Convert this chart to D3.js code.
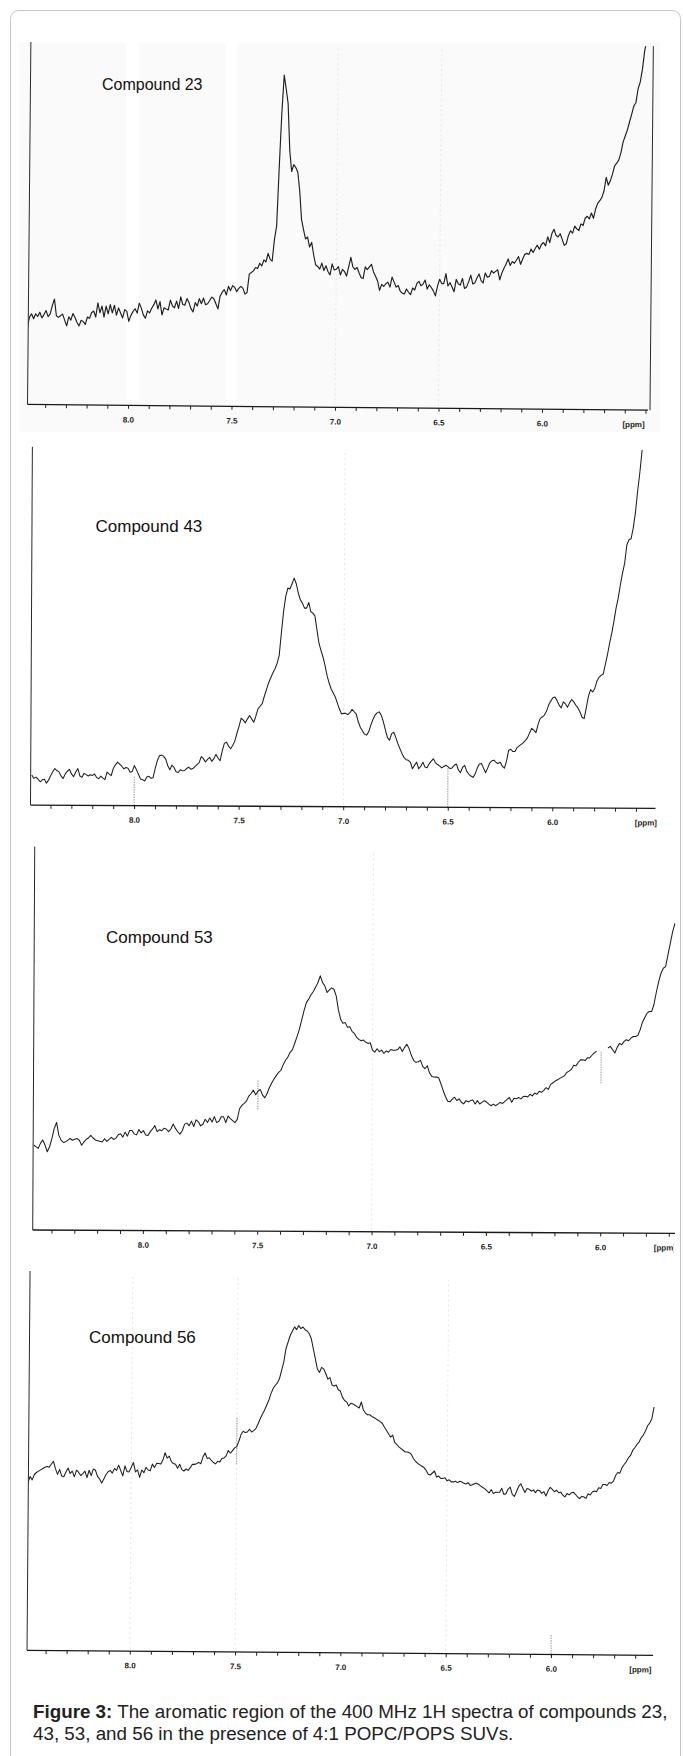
<!DOCTYPE html>
<html><head><meta charset="utf-8">
<script src="https://cdn.jsdelivr.net/npm/d3@7"></script>
<style>body{margin:0;background:#fff} svg{display:block}</style>
</head><body><svg id="c" width="683" height="1756"></svg>
<script>
// ---------------- DATA ----------------
const compounds = ["Compound 23", "Compound 43", "Compound 53", "Compound 56"];
// first chemical shift of each trace (ppm), sampled every 0.01 ppm toward lower shift
const ppmStart = [8.49, 8.49, 8.48, 8.49];
const ppmStep = 0.01;
// intensities (arbitrary units)
const int23 = [
23,26.2,27.2,25.7,27.2,26.4,27.7,26,27,28.2,
26.4,27.2,29.7,31.7,26.7,26.2,26.7,27.2,25.4,23.7,
26.4,25.4,27.4,26.2,24.7,23.7,25.4,25,24.2,26.4,
26,27.7,28.2,26.4,30.7,27.7,29.7,26.4,29.7,27.4,
30.2,27.7,30,27,29.2,27.7,26.2,28.7,28.2,25.2,
27,28.2,29,27.7,30.7,29.2,27.2,26.2,28.4,27.8,
29.2,30.2,31.7,29,31.2,27.2,29.4,29,28.7,31.7,
30,29.4,31.4,29.2,32.7,30.4,30.2,32.2,31,29.2,
28.2,31,30,32.2,30.7,32.4,30.4,30.7,31.7,32.7,
32.2,30.7,29.2,33,34.2,35,33.4,36,34.7,36.2,
35.7,34.4,35.4,36,35.4,33.7,34.2,39.7,40.2,40.7,
41.7,41.4,43,42.2,44,43.4,46,44.2,43.7,50.2,
54.2,72,88,99.5,95.5,91,77,70.6,72.7,71.8,
70.4,64.7,56.2,53.2,50.4,51,48,49.4,45.7,42.7,
42.2,41.4,43.2,41,42.4,40.7,39.7,43,41.2,41.4,
42.2,39.7,41.4,40.7,39.4,42.2,45,42.2,41.4,42,
40.4,39,38.7,42.2,41.4,42.2,43,40.7,39.4,38,
35.2,37,36.4,37.2,37.7,36.2,39.2,37.7,36.2,36.7,
35,34.4,34.2,35.7,34.7,34,36,35.4,37.4,38,
36.7,37.2,38.4,35.7,37,36.2,35.2,33.7,36.7,38.7,
37.4,37.4,40.4,36.7,37.7,36.4,35,38.7,37.4,37,
39,36,36.4,38,40,37.4,37.7,39.2,40.4,38.4,
37.7,40.7,39.4,39.7,41.4,40.7,41.2,41.7,38.7,40.7,
42.2,43.4,45,43,44.2,43.7,44.7,45.7,43.4,45,
46.4,46.7,46.4,48,47,48.2,49.2,48,49.4,50,
49,51.7,50,52.7,54,52.2,51.7,52.7,51,49.2,
49.7,52.2,53.6,52.9,55,54.2,53.7,55.7,55.2,57.4,
58,57.2,59,57.4,60.2,61.9,62.7,63.7,65.7,69.7,
67.4,68.7,70.7,73.2,74,75,77.2,80.4,82.2,84,
86.4,88.7,91.2,92.2,96.4,98.4,102.2,107.7,111.2
];
const int43 = [
9,8,8.4,7.8,7,7.6,7.8,6.6,7.5,8.8,
10,11,10.4,10,8.8,8,9.4,10.2,10.8,9.4,
8.6,10,11,8.8,8.4,9.6,9.2,8.8,9.2,9,
9.4,8.4,8,8.8,8.2,7.8,10,9.4,9,11.2,
12.2,13,12.4,11.8,11,11.4,11.2,10,10.2,12,
10.8,9.4,8,7.8,7.4,8.6,8.8,8.2,8.4,11.2,
13.5,15,15.2,14.8,14,12,10.8,12.2,11.5,10.2,
10,10.8,10.5,10.6,11.2,11.6,11,11.2,11.8,12.4,
13,14.8,14.2,13.2,14,14.6,13.4,14.2,15.5,14.4,
13.6,16.5,18.8,19.2,18,17.2,18.2,19.5,21.8,24,
26.4,25.8,25,26.2,27.2,26.2,25.2,27,29.2,30,
30.8,33,35,37,38.5,40,41.2,42.8,45.2,52,
58.5,63,65.5,65.2,66.8,68.5,66.8,64,62,61,
59.5,59.5,61.2,58.5,58,57.2,53,49,46.8,44.8,
42.2,39.2,37,35.2,34,32.8,31,29.2,27.8,28,
28,27.6,28.2,29.2,28.5,27.8,25.5,23.8,22.8,21.8,
21.5,22.5,24.5,26.2,27.5,28.2,28.5,27.5,25.5,23,
20.8,20,22,22.4,20.8,19,17.5,16,14.8,14.2,
14,13.5,11.5,12.5,13.5,11.5,12.2,13.5,12,11.8,
13,13.8,14.5,13.4,12.8,12.4,11.8,12.2,12.6,12.2,
11.6,11.8,12.6,13,11.2,10.4,12,12.6,10.8,10,
9.4,9,10,11.8,13,13.2,11.8,10.4,11.8,13.4,
14,14.2,13.5,13.2,13.6,12.4,11.8,14,17.2,17.5,
16.8,16.8,18,18.5,19,19.5,20.2,21,22.5,23.8,
23.2,22.5,25,26.8,27.2,27.8,29,30.8,32,33,
33.2,32.2,30.8,30,31.8,31.2,30.2,31.5,32.5,31.8,
30.8,30,28.8,27.2,26.8,30,33.5,35.5,34.8,35.8,
38,39.2,39.8,40.2,43,46,49.5,52.5,56,60,
63,67,70.5,73.5,79,80.5,80.8,84,88.5,95,
100.5,107,111
];
const int53 = [
25.5,25,24.5,26,27,25.5,23.5,25,27.5,30.5,
32.3,28.5,27,26.3,26.5,27,27.5,27,27.3,27.5,
27,25.5,26.5,27.3,27.7,28.5,27.7,27.1,26.9,26.7,
26.5,27.5,26.7,27.3,27.9,27.3,27.7,28.7,29,28,
29.5,28.3,30,30,29,28.7,30.3,29.3,30,28.7,
28.5,29.7,30.5,31.5,29.7,30.3,30,30.7,30.5,29.7,
30.5,32,30.7,29.7,29,30,32,32.3,31.5,32.9,
31.3,33.3,32.7,31.5,32,33.5,32.5,33.9,32.7,34.3,
32.5,32.9,34.3,34.3,32.5,34.5,33.7,33.1,32.5,33.5,
36.7,37.7,38.3,39,40.5,41.3,42.3,40.9,42,42.5,
40.9,40,41.3,43.1,44.5,45.7,46.7,47.7,48.3,50,
51.3,52.3,53.7,54.5,56.5,58.5,60.7,63.5,66.3,68.7,
69.7,71,72,73.3,74.7,76.7,74.7,73.7,71.7,72.5,
73.1,72.7,70.7,66.5,63.7,62.5,62.7,61.3,61.5,60.1,
59.5,58.3,57.7,57.3,57.5,56.9,56.5,56.7,54.5,53.9,
54.9,54,54.5,53.5,54.3,53.9,54.7,54.5,54.5,54.7,
55.5,54.1,55.3,56.3,55,53,51.5,50.9,51.1,51.5,
49.7,49,49.9,47.7,46.7,46.5,46.5,46.3,44.5,42.5,
40.7,39.3,39.1,39.9,40.5,39.5,40,39,38.5,39.5,
39.1,39.5,39.7,38.5,39.5,38.5,39,39.5,39.1,38.5,
38,38.5,38,38.5,39,38.7,39.3,39.9,40.5,39.1,
40.3,40.1,40.5,40.1,40.8,40.9,40.7,41.5,41,41.9,
41.5,42.4,42.1,42.7,43.5,43,44.5,45,45.5,45.9,
46.3,46.7,47.1,48.1,48.5,49,50.3,50.1,51.1,51.9,
51.9,51.7,52.5,52.5,53.3,54,54.5,null,null,null,
null,55.5,56,55,54,55.7,56.9,56.5,57.5,58,
57.7,58.5,59,59,59.3,61,63.3,64.7,66,66.5,
66.5,68.7,72.3,75.5,78,79.5,80,83.5,87,90.5,
93
];
const int56 = [
50,51.8,50.8,52.4,53,53.4,53.8,54.2,54.6,54.8,
54.6,55.5,56.4,54.2,52.5,54,52,51.8,53.2,54.4,
52.8,53.5,51.8,53.8,53.2,52.2,52.8,53.5,51.6,53.8,
52.2,54.2,53.8,52,51.2,50,51.2,52.5,53.4,53.8,
53,54.4,53.8,55.4,53.8,52.2,55.2,53.5,53.4,54.8,
56.2,53.4,54,51.8,54,53.2,54.8,54,53.8,55.8,
54.8,56,56,55.8,57,59.2,57.6,58.2,56.6,56,
55.8,54.6,55.8,54.2,53.8,54.4,54,54.8,55.8,55.8,
56,56.4,56,58,59.2,57.6,57.8,57,56.4,56,
56.8,56.6,57.6,57.8,58.4,60,59.2,60,60.8,61.2,
62.8,64.8,65.8,65.4,65.6,66.4,65.6,66,66.6,68,
69.5,70.8,72,73.5,75,77,78.5,79.5,80.2,81.5,
84,86.5,90.5,92.5,94.5,95.8,97,96.2,97.4,96.5,
97,96.2,95.8,95,93.5,90.5,87.5,84.5,83.5,85,
84.5,83.2,81.5,82,79.8,79.5,79.8,78.4,78,76.2,
75.2,74.8,73.6,74.4,74.2,73.8,73.4,73,74.8,72.4,
71.5,71,71,70.5,70.2,69.8,69.4,69,68.5,67.4,
66.4,65.4,64.4,65,62.8,62.2,61.5,61,60.5,60,
60,59.8,59.2,58,57.2,56.6,56.2,55.8,55.4,54.6,
53.4,53.2,53.8,54.4,52.6,52.9,52.2,52.2,52.4,51.5,
51.8,51.2,51.2,51.4,51,51.4,51.2,50.8,50.6,51,
50.2,50.4,50.7,50.9,50.5,50,49.6,49.2,48.6,48,
49,47.8,48.2,48.2,48.2,49.4,47.6,47.8,49.2,49.8,
47.6,47,48.4,50,50.8,49.5,48.2,49.4,49.2,48.6,
49,48.2,49,48.8,48,48.5,47.2,48.8,49.8,49.2,
48.5,49,48.2,48.4,47.5,47,48,47.6,48.2,48.4,
47.8,47,46.5,47.2,47,46.6,48,47.6,48.5,48.8,
48.6,49.8,49.6,50.8,50.8,50.5,51.4,51.2,51.8,53.5,
54.4,54.2,55.8,56.8,57.6,58.8,59.5,61,61.8,62.8,
63.5,64.8,65.6,66.8,68.4,69.2,70.5,74
];
const series = [int23, int43, int53, int56];
const tickValues = [8.4,8.3,8.2,8.1,8.0,7.9,7.8,7.7,7.6,7.5,7.4,7.3,7.2,7.1,7.0,6.9,6.8,6.7,6.6,6.5,6.4,6.3,6.2,6.1,6.0,5.9,5.8,5.7,5.6,5.5];
const tickLabels = ["8.0","7.5","7.0","6.5","6.0"];
const axisUnit = "[ppm]";
const captionBold = "Figure 3:";
const captionLine1 = " The aromatic region of the 400 MHz 1H spectra of compounds 23,";
const captionLine2 = "43, 53, and 56 in the presence of 4:1 POPC/POPS SUVs.";

// ---------------- LAYOUT ----------------
const FONT = "'Liberation Sans', Arial, Helvetica, sans-serif";
const layout = [
  {x8:128, x6:542, xl:27.5, xr:648, axisY:407.3, topY:43.3, yMax:109.2, rot:0.53, sw:1.15,
   lx:102, ly:89.7, ls:16, ppmX:633.7, clipR:683, frameR:650, faint:[7.0,6.5], dots:[]},
  {x8:134.1, x6:552.3, xl:30.5, xr:655.5, axisY:806.7, topY:448.3, yMax:107.5, rot:0.3, sw:1.05,
   lx:95.5, ly:531.8, ls:17, ppmX:646, clipR:657, frameR:null, faint:[7.0], dots:[[8.0,0,30],[6.5,0,40]]},
  {x8:142.9, x6:600.2, xl:32.7, xr:675, axisY:1231.7, topY:848.3, yMax:115, rot:0.3, sw:1.05,
   lx:106, ly:943.4, ls:17, ppmX:665, clipR:674, frameR:null, faint:[7.0], dots:[[7.5,121.7,151.7],[6.0,149.7,181.7]]},
  {x8:129.8, x6:551, xl:27, xr:653, axisY:1652.8, topY:1273.6, yMax:113, rot:0.46, sw:1.05,
   lx:89, ly:1342.8, ls:17, ppmX:640.5, clipR:683, frameR:null, faint:[8.0,7.5,6.5], dots:[[7.5,187.8,234.8],[6.0,-2,20]]}
];

const svg = d3.select("#c");
const defs = svg.append("defs");

// outer frame
svg.append("rect").attr("x",10.5).attr("y",10.5).attr("width",670).attr("height",1800)
  .attr("rx",8).attr("fill","none").attr("stroke","#c6c6c6").attr("stroke-width",1);

// scanned background of first panel
svg.append("rect").attr("x",19.3).attr("y",42.7).attr("width",640.7).attr("height",389)
  .attr("fill","#fafafa");
[[126,13],[226,11]].forEach(([bx,bw]) => {
  svg.append("rect").attr("x",bx).attr("y",42.7).attr("width",bw).attr("height",357).attr("fill","#ffffff");
});

layout.forEach((L, i) => {
  const x = d3.scaleLinear().domain([8.0, 6.0]).range([L.x8, L.x6]);
  const y = d3.scaleLinear().domain([0, L.yMax]).range([L.axisY, L.topY]);
  const cx = (L.xl + L.xr) / 2;
  const g = svg.append("g").attr("transform", `rotate(${L.rot},${cx},${L.axisY})`);

  const clipId = "clip" + i;
  defs.append("clipPath").attr("id", clipId).append("rect")
    .attr("x", L.xl).attr("y", L.topY).attr("width", L.xr - L.xl).attr("height", L.axisY - L.topY);
  const clipT = "clipt" + i;
  defs.append("clipPath").attr("id", clipT).append("rect")
    .attr("x", 0).attr("y", L.axisY).attr("width", L.clipR).attr("height", 30);

  // faint scan guide lines
  L.faint.forEach(p => {
    g.append("line").attr("x1", x(p)).attr("x2", x(p)).attr("y1", L.topY + 5).attr("y2", L.axisY)
      .attr("stroke", "#e6e6e6").attr("stroke-width", 1).attr("stroke-dasharray", "2,3");
  });
  L.dots.forEach(([p, a, b]) => {
    g.append("line").attr("x1", x(p)).attr("x2", x(p)).attr("y1", L.axisY - a).attr("y2", L.axisY - b)
      .attr("stroke", "#9a9a9a").attr("stroke-width", 1).attr("stroke-dasharray", "1.5,1");
  });

  // spectrum trace
  const pts = series[i].map((v, k) => ({ ppm: +(ppmStart[i] - k * ppmStep).toFixed(3), v }));
  const line = d3.line().defined(d => d.v != null).x(d => x(d.ppm)).y(d => y(d.v));
  g.append("path").datum(pts).attr("d", line).attr("fill", "none")
    .attr("stroke", "#1e1e1e").attr("stroke-width", L.sw).attr("stroke-linejoin", "round")
    .attr("clip-path", `url(#${clipId})`);

  // axes
  const lo = x.invert(L.xr), hi = x.invert(L.xl);
  const tv = tickValues.filter(t => t <= hi + 1e-9 && t >= lo - 1e-9);
  const axis = d3.axisBottom(x).tickValues(tv).tickSize(3.5).tickPadding(8)
    .tickFormat(d => tickLabels.includes(d.toFixed(1)) ? d.toFixed(1) : "");
  const ag = g.append("g").attr("transform", `translate(0,${L.axisY})`).call(axis);
  ag.select(".domain").remove();
  ag.selectAll(".tick line").attr("stroke", "#222").attr("stroke-width", 1);
  ag.selectAll(".tick text").attr("font-family", FONT).attr("font-weight", "bold")
    .attr("font-size", 8).attr("fill", "#222");

  g.append("line").attr("x1", L.xl).attr("x2", L.xr).attr("y1", L.axisY).attr("y2", L.axisY)
    .attr("stroke", "#1a1a1a").attr("stroke-width", 1.3);
  g.append("line").attr("x1", L.xl).attr("x2", L.xl).attr("y1", L.topY + (i === 0 ? 1.5 : 0)).attr("y2", L.axisY)
    .attr("stroke", "#2a2a2a").attr("stroke-width", 1);
  if (L.frameR) {
    g.append("line").attr("x1", L.frameR).attr("x2", L.frameR).attr("y1", L.topY).attr("y2", L.axisY)
      .attr("stroke", "#2a2a2a").attr("stroke-width", 1);
  }
  g.append("text").attr("x", L.ppmX).attr("y", L.axisY + 11.5).attr("dy", "0.71em")
    .attr("text-anchor", "middle").attr("font-family", FONT).attr("font-weight", "bold")
    .attr("font-size", 8).attr("fill", "#222").attr("clip-path", `url(#${clipT})`).text(axisUnit);

  // compound label
  svg.append("text").attr("x", L.lx).attr("y", L.ly).attr("font-family", FONT)
    .attr("font-size", L.ls).attr("fill", "#111").text(compounds[i]);
});

// caption
const cap = svg.append("text").attr("x", 33).attr("y", 1718).attr("font-family", FONT)
  .attr("font-size", 18.8).attr("fill", "#222");
cap.append("tspan").attr("font-weight", "bold").text(captionBold);
cap.append("tspan").text(captionLine1);
svg.append("text").attr("x", 33).attr("y", 1740).attr("font-family", FONT)
  .attr("font-size", 18.8).attr("fill", "#222").text(captionLine2);
</script>
</body></html>
